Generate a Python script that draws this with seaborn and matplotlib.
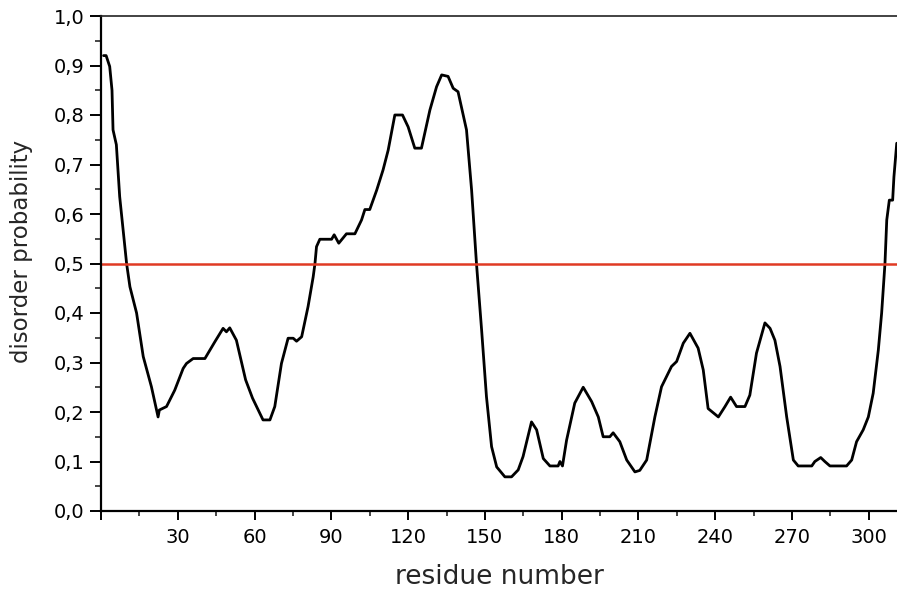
# Disorder probability profile along the protein sequence

import matplotlib
matplotlib.use("Agg")
import matplotlib.pyplot as plt
from matplotlib.ticker import MultipleLocator, FuncFormatter
import pandas as pd
import seaborn as sns

# -----------------------------
# Data
# -----------------------------
residues = [
    1, 2, 3.4, 4.3, 4.7, 6, 7.3, 10, 11.3, 13.9, 16.5, 19.7, 22.3, 22.8, 25.6,
    28.8, 32.1, 33.4, 36, 40.6, 44.5, 47.7, 49, 50.3, 52.9,
    56.5, 59.2, 63.3, 66, 67.9, 70.5, 73.1, 75.1, 76.4, 78.4, 80.9, 82.9, 83.6,
    84.2, 85.5, 90.1, 91.1, 92.9, 95.9, 99.2, 101.8, 103.1, 105, 107.7, 110.2,
    112.2, 114.8, 117.8,
    120, 122.6, 125.2, 126.5, 128.5, 131.1, 133.1, 135.6, 137.6, 139.5, 142.8,
    144.8, 146.7, 148.7, 150.6, 152.6, 154.6, 157.8, 160.4, 163, 164.9, 168.2,
    170.2, 172.8, 175.4, 178.6, 179.3, 180.3,
    181.9, 185.1, 188.4, 191.7, 194.3, 196.2, 198.8, 200.1, 202.7, 205.4, 208.6,
    210.5, 213.2, 216.4, 219, 222.9, 224.9, 227.5, 230.1, 233.3, 235.3, 237.2,
    241.2, 243.8, 246, 248.3, 251.6, 253.5, 256.1, 259.4, 261.4, 263.3, 265.3,
    267.9, 270.5, 272.4, 277.7, 278.9, 281.2, 282.8, 284.8, 291.3, 293.3, 295.2,
    297.8, 299.8, 301.7, 303.7, 305, 306.3, 307, 308, 309.3, 309.8, 310.9,
]
disorder = [
    0.92, 0.92, 0.898, 0.85, 0.77, 0.74, 0.635, 0.50, 0.453, 0.40, 0.312, 0.251,
    0.19, 0.204, 0.211, 0.244, 0.288, 0.298, 0.308, 0.308, 0.342, 0.369, 0.362,
    0.37, 0.345,
    0.265, 0.228, 0.184, 0.184, 0.211, 0.298, 0.349, 0.349, 0.343, 0.352, 0.413,
    0.473, 0.50, 0.534, 0.549, 0.549, 0.558, 0.541, 0.56, 0.56, 0.588, 0.609,
    0.609, 0.648, 0.689, 0.729, 0.80, 0.80,
    0.776, 0.733, 0.733, 0.763, 0.81, 0.857, 0.881, 0.878, 0.854, 0.847, 0.77,
    0.648, 0.50, 0.366, 0.231, 0.13, 0.089, 0.069, 0.069, 0.083, 0.11, 0.18,
    0.164, 0.106, 0.091, 0.091, 0.10, 0.091,
    0.143, 0.218, 0.25, 0.221, 0.19, 0.15, 0.15, 0.158, 0.14, 0.103, 0.079,
    0.082, 0.103, 0.19, 0.251, 0.292, 0.302, 0.339, 0.359, 0.329, 0.285, 0.207,
    0.19, 0.211, 0.23, 0.211, 0.211, 0.234, 0.319, 0.38, 0.369, 0.345, 0.292,
    0.19, 0.103, 0.091, 0.091, 0.10, 0.108, 0.10, 0.091, 0.091, 0.103, 0.14,
    0.164, 0.19, 0.238, 0.325, 0.40, 0.50, 0.588, 0.628, 0.628, 0.675, 0.743,
]
threshold = 0.5
x_ticks = [0, 30, 60, 90, 120, 150, 180, 210, 240, 270, 300]
y_ticks = [0.0, 0.1, 0.2, 0.3, 0.4, 0.5, 0.6, 0.7, 0.8, 0.9, 1.0]

df = pd.DataFrame({"residue": residues, "disorder": disorder})

# -----------------------------
# Style
# -----------------------------
sns.set_style("ticks")
plt.rcParams["font.family"] = ["DejaVu Sans"]

fig = plt.figure(figsize=(8.97, 5.91), dpi=100)
ax = fig.add_axes([101 / 897, 80 / 591, 796 / 897, 495 / 591])

sns.lineplot(data=df, x="residue", y="disorder", ax=ax,
             color="black", linewidth=2.0)
ax.axhline(threshold, color="#e03a24", linewidth=1.8)

ax.set_xlim(0, 311)
ax.set_ylim(0, 1.0)

ax.set_xticks(x_ticks)
ax.xaxis.set_major_formatter(FuncFormatter(lambda v, p: "" if v == 0 else f"{v:.0f}"))
ax.xaxis.set_minor_locator(MultipleLocator(15))
ax.set_yticks(y_ticks)
ax.yaxis.set_major_formatter(FuncFormatter(lambda v, p: f"{v:.1f}".replace(".", ",")))
ax.yaxis.set_minor_locator(MultipleLocator(0.05))

ax.tick_params(axis="both", which="major", direction="out", width=1.4,
               labelsize=14, colors="black")
ax.tick_params(axis="y", which="major", length=8, pad=4)
ax.tick_params(axis="x", which="major", length=6.5, pad=6)
ax.tick_params(axis="y", which="minor", direction="out", length=4, width=1.2)
ax.tick_params(axis="x", which="minor", direction="out", length=3.5, width=1.2)

ax.spines["right"].set_visible(False)
for side in ["left", "bottom"]:
    ax.spines[side].set_linewidth(1.6)
    ax.spines[side].set_color("black")
ax.spines["top"].set_linewidth(1.2)
ax.spines["top"].set_color("#222222")

ax.set_xlabel("residue number", fontsize=19, labelpad=12)
ax.set_ylabel("disorder probability", fontsize=16.5)
ax.yaxis.set_label_coords(-0.085, 0.525)

fig.savefig("out.png", dpi=100)
